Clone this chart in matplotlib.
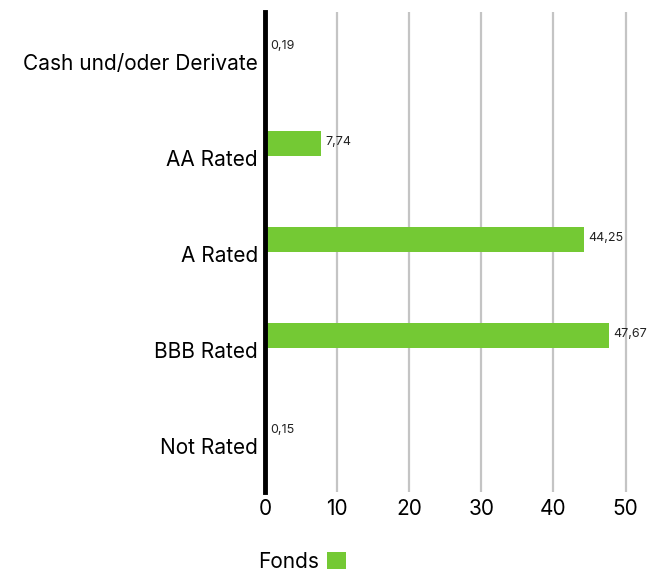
import matplotlib.pyplot as plt
from matplotlib.patches import Patch
from matplotlib.transforms import ScaledTranslation

categories = ["Cash und/oder Derivate", "AA Rated", "A Rated", "BBB Rated", "Not Rated"]
values = [0.19, 7.74, 44.25, 47.67, 0.15]
value_labels = ["0,19", "7,74", "44,25", "47,67", "0,15"]
xticks = [0, 10, 20, 30, 40, 50]

green = "#74c934"
plt.rcParams['font.family'] = ['Inter', 'DejaVu Sans']

fig = plt.figure(figsize=(6.64, 5.74), dpi=100)
ax = fig.add_axes([265 / 664, 1 - 492 / 574, 375 / 664, 480 / 574])

pos = list(range(len(categories)))
bar_h = 0.26
ax.barh([p - bar_h / 2 for p in pos], values, height=bar_h, color=green, zorder=3)

for p, v, lab in zip(pos, values, value_labels):
    ax.text(v + 0.6, p - bar_h / 2 - 0.02, lab, va="center", ha="left", fontsize=9, color="#222222")

ax.set_ylim(len(categories) - 0.5, -0.5)
ax.set_xlim(0, 52)
ax.set_yticks(pos)
ax.set_yticklabels(categories, fontsize=15)
ax.set_xticks(xticks)
ax.set_xticklabels([str(t) for t in xticks], fontsize=15)
ax.tick_params(length=0, pad=5)
ax.tick_params(axis="y", pad=5)

# nudge category labels slightly down
shift = ScaledTranslation(0, -2 / 100, fig.dpi_scale_trans)
for lbl in ax.get_yticklabels():
    lbl.set_transform(lbl.get_transform() + shift)

for t in xticks[1:]:
    ax.axvline(t, color="#c4c4c4", lw=1.6, zorder=1)

for s in ["top", "right", "bottom"]:
    ax.spines[s].set_visible(False)
ax.spines["left"].set_linewidth(3.5)
ax.spines["left"].set_color("black")
ax.spines["left"].set_zorder(4)

handle = Patch(facecolor=green, edgecolor="none")
fig.legend([handle], ["Fonds"], loc="center left", bbox_to_anchor=(239 / 664, 1 - 562 / 574),
           frameon=False, fontsize=15, markerfirst=False, handlelength=0.9, handleheight=0.9,
           handletextpad=0.4)

fig.savefig("out.png", dpi=100)
